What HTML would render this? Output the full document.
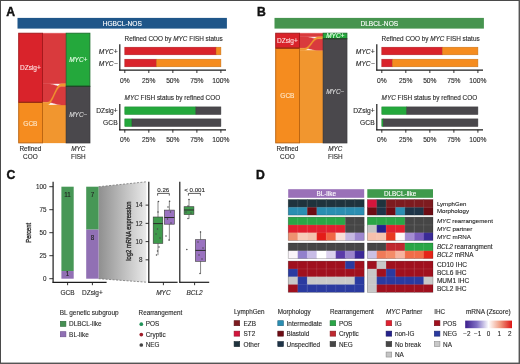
<!DOCTYPE html>
<html><head><meta charset="utf-8"><style>
html,body{margin:0;padding:0;background:#fff;}
svg{display:block;font-family:"Liberation Sans", sans-serif;will-change:transform;filter:blur(0.3px);}
</style></head><body>
<svg width="520" height="364" viewBox="0 0 520 364">
<rect x="0.00" y="0.00" width="520.00" height="364.00" fill="#ffffff" />
<rect x="17.50" y="17.90" width="209.40" height="10.70" fill="#1f5689" />
<text x="122.30" y="26.10" font-size="6.6" fill="#ffffff" stroke="#ffffff" stroke-width="0.12" text-anchor="middle" font-weight="normal" font-style="normal" >HGBCL-NOS</text>
<path d="M42.50,33.20 L47.24,33.20 C52.93,33.20 55.77,33.20 61.46,33.20 L66.20,33.20 L66.20,83.64 L61.46,83.64 C55.77,83.64 52.93,83.64 47.24,83.64 L42.50,83.64 Z" fill="#d93a3d" stroke="#d93a3d" stroke-width="0.35"/>
<path d="M42.50,104.98 L47.24,104.98 C52.93,104.98 55.77,104.98 61.46,104.98 L66.20,104.98 L66.20,142.90 L61.46,142.90 C55.77,142.90 52.93,142.90 47.24,142.90 L42.50,142.90 Z" fill="#f1962f" stroke="#f1962f" stroke-width="0.35"/>
<path d="M42.50,83.64 L47.24,83.64 C52.93,83.64 55.77,86.30 61.46,86.30 L66.20,86.30 L66.20,104.98 L61.46,104.98 C55.77,104.98 52.93,102.32 47.24,102.32 L42.50,102.32 Z" fill="#d93a3d" stroke="#d93a3d" stroke-width="0.35"/>
<path d="M42.50,102.32 L47.24,102.32 C52.93,102.32 55.77,83.64 61.46,83.64 L66.20,83.64 L66.20,86.30 L61.46,86.30 C55.77,86.30 52.93,104.98 47.24,104.98 L42.50,104.98 Z" fill="#f1962f" stroke="#f1962f" stroke-width="0.35"/>
<rect x="18.70" y="33.20" width="23.80" height="69.12" fill="#d9232b" stroke="#a01418" stroke-width="0.9"/>
<rect x="18.70" y="102.32" width="23.80" height="40.58" fill="#f58c1f" stroke="#b8600c" stroke-width="0.9"/>
<line x1="18.70" y1="102.32" x2="42.50" y2="102.32" stroke="#8a1c14" stroke-width="0.9" />
<rect x="66.20" y="33.20" width="23.70" height="53.10" fill="#24a83c" stroke="#1a6e2a" stroke-width="0.9"/>
<rect x="66.20" y="86.30" width="23.70" height="56.60" fill="#4a484c" stroke="#333235" stroke-width="0.9"/>
<line x1="66.20" y1="86.30" x2="89.90" y2="86.30" stroke="#1e4a24" stroke-width="0.9" />
<text x="30.40" y="70.40" font-size="6.5" fill="#ffe0e0" stroke="#ffe0e0" stroke-width="0.12" text-anchor="middle" font-weight="normal" font-style="normal" >DZsig+</text>
<text x="30.40" y="125.50" font-size="6.5" fill="#ffe8cc" stroke="#ffe8cc" stroke-width="0.12" text-anchor="middle" font-weight="normal" font-style="normal" >GCB</text>
<text x="78.30" y="62.30" font-size="6.5" fill="#e6ffe6" stroke="#e6ffe6" stroke-width="0.12" text-anchor="middle" font-weight="normal" font-style="italic" >MYC+</text>
<text x="78.30" y="116.50" font-size="6.5" fill="#dddddd" stroke="#dddddd" stroke-width="0.12" text-anchor="middle" font-weight="normal" font-style="italic" >MYC&#8722;</text>
<text x="30.40" y="151.20" font-size="6.4" fill="#2a2a2a" stroke="#2a2a2a" stroke-width="0.12" text-anchor="middle" font-weight="normal" font-style="normal" >Refined</text>
<text x="30.40" y="159.30" font-size="6.4" fill="#2a2a2a" stroke="#2a2a2a" stroke-width="0.12" text-anchor="middle" font-weight="normal" font-style="normal" >COO</text>
<text x="78.30" y="151.20" font-size="6.4" fill="#2a2a2a" stroke="#2a2a2a" stroke-width="0.12" text-anchor="middle" font-weight="normal" font-style="italic" >MYC</text>
<text x="78.30" y="159.30" font-size="6.4" fill="#2a2a2a" stroke="#2a2a2a" stroke-width="0.12" text-anchor="middle" font-weight="normal" font-style="normal" >FISH</text>
<text x="124.60" y="40.60" font-size="6.4" fill="#2a2a2a" stroke="#2a2a2a" stroke-width="0.12" text-anchor="start" font-weight="normal" font-style="normal" >Refined COO by <tspan font-style="italic">MYC</tspan> FISH status</text>
<rect x="124.80" y="47.20" width="91.29" height="7.60" fill="#d9232b" stroke="#ad1c22" stroke-width="0.5"/>
<rect x="216.09" y="47.20" width="4.81" height="7.60" fill="#f58c1f" stroke="#c47018" stroke-width="0.5"/>
<text x="117.60" y="53.70" font-size="6.7" fill="#2a2a2a" stroke="#2a2a2a" stroke-width="0.12" text-anchor="end" font-weight="normal" font-style="italic" >MYC+</text>
<rect x="124.80" y="59.20" width="31.71" height="7.60" fill="#d9232b" stroke="#ad1c22" stroke-width="0.5"/>
<rect x="156.51" y="59.20" width="64.39" height="7.60" fill="#f58c1f" stroke="#c47018" stroke-width="0.5"/>
<text x="117.60" y="65.70" font-size="6.7" fill="#2a2a2a" stroke="#2a2a2a" stroke-width="0.12" text-anchor="end" font-weight="normal" font-style="italic" >MYC&#8722;</text>
<line x1="119.80" y1="44.30" x2="119.80" y2="70.60" stroke="#1c1c1c" stroke-width="1.2" />
<line x1="119.20" y1="70.10" x2="226.00" y2="70.10" stroke="#1c1c1c" stroke-width="1.2" />
<line x1="124.80" y1="70.10" x2="124.80" y2="73.00" stroke="#1c1c1c" stroke-width="0.9" />
<text x="124.80" y="82.60" font-size="6.7" fill="#2a2a2a" stroke="#2a2a2a" stroke-width="0.12" text-anchor="middle" font-weight="normal" font-style="normal" >0%</text>
<line x1="148.82" y1="70.10" x2="148.82" y2="73.00" stroke="#1c1c1c" stroke-width="0.9" />
<text x="148.82" y="82.60" font-size="6.7" fill="#2a2a2a" stroke="#2a2a2a" stroke-width="0.12" text-anchor="middle" font-weight="normal" font-style="normal" >25%</text>
<line x1="172.85" y1="70.10" x2="172.85" y2="73.00" stroke="#1c1c1c" stroke-width="0.9" />
<text x="172.85" y="82.60" font-size="6.7" fill="#2a2a2a" stroke="#2a2a2a" stroke-width="0.12" text-anchor="middle" font-weight="normal" font-style="normal" >50%</text>
<line x1="196.88" y1="70.10" x2="196.88" y2="73.00" stroke="#1c1c1c" stroke-width="0.9" />
<text x="196.88" y="82.60" font-size="6.7" fill="#2a2a2a" stroke="#2a2a2a" stroke-width="0.12" text-anchor="middle" font-weight="normal" font-style="normal" >75%</text>
<line x1="220.90" y1="70.10" x2="220.90" y2="73.00" stroke="#1c1c1c" stroke-width="0.9" />
<text x="220.90" y="82.60" font-size="6.7" fill="#2a2a2a" stroke="#2a2a2a" stroke-width="0.12" text-anchor="middle" font-weight="normal" font-style="normal" >100%</text>
<text x="124.60" y="100.30" font-size="6.4" fill="#2a2a2a" stroke="#2a2a2a" stroke-width="0.12" text-anchor="start" font-weight="normal" font-style="normal" ><tspan font-style="italic">MYC</tspan> FISH status by refined COO</text>
<rect x="124.80" y="106.90" width="71.11" height="7.60" fill="#24a83c" stroke="#1c8630" stroke-width="0.5"/>
<rect x="195.91" y="106.90" width="24.99" height="7.60" fill="#4a484c" stroke="#3b393c" stroke-width="0.5"/>
<text x="117.60" y="113.40" font-size="6.7" fill="#2a2a2a" stroke="#2a2a2a" stroke-width="0.12" text-anchor="end" font-weight="normal" font-style="normal" >DZsig+</text>
<rect x="124.80" y="118.90" width="7.21" height="7.60" fill="#24a83c" stroke="#1c8630" stroke-width="0.5"/>
<rect x="132.01" y="118.90" width="88.89" height="7.60" fill="#4a484c" stroke="#3b393c" stroke-width="0.5"/>
<text x="117.60" y="125.40" font-size="6.7" fill="#2a2a2a" stroke="#2a2a2a" stroke-width="0.12" text-anchor="end" font-weight="normal" font-style="normal" >GCB</text>
<line x1="119.80" y1="104.00" x2="119.80" y2="130.30" stroke="#1c1c1c" stroke-width="1.2" />
<line x1="119.20" y1="129.80" x2="226.00" y2="129.80" stroke="#1c1c1c" stroke-width="1.2" />
<line x1="124.80" y1="129.80" x2="124.80" y2="132.70" stroke="#1c1c1c" stroke-width="0.9" />
<text x="124.80" y="142.30" font-size="6.7" fill="#2a2a2a" stroke="#2a2a2a" stroke-width="0.12" text-anchor="middle" font-weight="normal" font-style="normal" >0%</text>
<line x1="148.82" y1="129.80" x2="148.82" y2="132.70" stroke="#1c1c1c" stroke-width="0.9" />
<text x="148.82" y="142.30" font-size="6.7" fill="#2a2a2a" stroke="#2a2a2a" stroke-width="0.12" text-anchor="middle" font-weight="normal" font-style="normal" >25%</text>
<line x1="172.85" y1="129.80" x2="172.85" y2="132.70" stroke="#1c1c1c" stroke-width="0.9" />
<text x="172.85" y="142.30" font-size="6.7" fill="#2a2a2a" stroke="#2a2a2a" stroke-width="0.12" text-anchor="middle" font-weight="normal" font-style="normal" >50%</text>
<line x1="196.88" y1="129.80" x2="196.88" y2="132.70" stroke="#1c1c1c" stroke-width="0.9" />
<text x="196.88" y="142.30" font-size="6.7" fill="#2a2a2a" stroke="#2a2a2a" stroke-width="0.12" text-anchor="middle" font-weight="normal" font-style="normal" >75%</text>
<line x1="220.90" y1="129.80" x2="220.90" y2="132.70" stroke="#1c1c1c" stroke-width="0.9" />
<text x="220.90" y="142.30" font-size="6.7" fill="#2a2a2a" stroke="#2a2a2a" stroke-width="0.12" text-anchor="middle" font-weight="normal" font-style="normal" >100%</text>
<rect x="274.50" y="17.90" width="209.40" height="10.70" fill="#46944f" />
<text x="379.30" y="26.10" font-size="6.6" fill="#ffffff" stroke="#ffffff" stroke-width="0.12" text-anchor="middle" font-weight="normal" font-style="normal" >DLBCL-NOS</text>
<path d="M299.50,33.20 L304.24,33.20 C309.93,33.20 312.77,33.20 318.46,33.20 L323.20,33.20 L323.20,36.73 L318.46,36.73 C312.77,36.73 309.93,36.73 304.24,36.73 L299.50,36.73 Z" fill="#d93a3d" stroke="#d93a3d" stroke-width="0.35"/>
<path d="M299.50,50.25 L304.24,50.25 C309.93,50.25 312.77,50.25 318.46,50.25 L323.20,50.25 L323.20,142.90 L318.46,142.90 C312.77,142.90 309.93,142.90 304.24,142.90 L299.50,142.90 Z" fill="#f1962f" stroke="#f1962f" stroke-width="0.35"/>
<path d="M299.50,36.73 L304.24,36.73 C309.93,36.73 312.77,38.80 318.46,38.80 L323.20,38.80 L323.20,50.25 L318.46,50.25 C312.77,50.25 309.93,48.18 304.24,48.18 L299.50,48.18 Z" fill="#d93a3d" stroke="#d93a3d" stroke-width="0.35"/>
<path d="M299.50,48.18 L304.24,48.18 C309.93,48.18 312.77,36.73 318.46,36.73 L323.20,36.73 L323.20,38.80 L318.46,38.80 C312.77,38.80 309.93,50.25 304.24,50.25 L299.50,50.25 Z" fill="#f1962f" stroke="#f1962f" stroke-width="0.35"/>
<rect x="275.70" y="33.20" width="23.80" height="14.98" fill="#d9232b" stroke="#a01418" stroke-width="0.9"/>
<rect x="275.70" y="48.18" width="23.80" height="94.72" fill="#f58c1f" stroke="#b8600c" stroke-width="0.9"/>
<line x1="275.70" y1="48.18" x2="299.50" y2="48.18" stroke="#8a1c14" stroke-width="0.9" />
<rect x="323.20" y="33.20" width="23.70" height="5.60" fill="#24a83c" stroke="#1a6e2a" stroke-width="0.9"/>
<rect x="323.20" y="38.80" width="23.70" height="104.10" fill="#4a484c" stroke="#333235" stroke-width="0.9"/>
<line x1="323.20" y1="38.80" x2="346.90" y2="38.80" stroke="#1e4a24" stroke-width="0.9" />
<text x="287.40" y="42.90" font-size="6.5" fill="#ffe0e0" stroke="#ffe0e0" stroke-width="0.12" text-anchor="middle" font-weight="normal" font-style="normal" >DZsig+</text>
<text x="287.40" y="97.50" font-size="6.5" fill="#ffe8cc" stroke="#ffe8cc" stroke-width="0.12" text-anchor="middle" font-weight="normal" font-style="normal" >GCB</text>
<text x="335.30" y="38.30" font-size="6.5" fill="#e6ffe6" stroke="#e6ffe6" stroke-width="0.12" text-anchor="middle" font-weight="normal" font-style="italic" >MYC+</text>
<text x="335.30" y="93.50" font-size="6.5" fill="#dddddd" stroke="#dddddd" stroke-width="0.12" text-anchor="middle" font-weight="normal" font-style="italic" >MYC&#8722;</text>
<text x="287.40" y="151.20" font-size="6.4" fill="#2a2a2a" stroke="#2a2a2a" stroke-width="0.12" text-anchor="middle" font-weight="normal" font-style="normal" >Refined</text>
<text x="287.40" y="159.30" font-size="6.4" fill="#2a2a2a" stroke="#2a2a2a" stroke-width="0.12" text-anchor="middle" font-weight="normal" font-style="normal" >COO</text>
<text x="335.30" y="151.20" font-size="6.4" fill="#2a2a2a" stroke="#2a2a2a" stroke-width="0.12" text-anchor="middle" font-weight="normal" font-style="italic" >MYC</text>
<text x="335.30" y="159.30" font-size="6.4" fill="#2a2a2a" stroke="#2a2a2a" stroke-width="0.12" text-anchor="middle" font-weight="normal" font-style="normal" >FISH</text>
<text x="381.60" y="40.60" font-size="6.4" fill="#2a2a2a" stroke="#2a2a2a" stroke-width="0.12" text-anchor="start" font-weight="normal" font-style="normal" >Refined COO by <tspan font-style="italic">MYC</tspan> FISH status</text>
<rect x="381.80" y="47.20" width="60.54" height="7.60" fill="#d9232b" stroke="#ad1c22" stroke-width="0.5"/>
<rect x="442.34" y="47.20" width="35.56" height="7.60" fill="#f58c1f" stroke="#c47018" stroke-width="0.5"/>
<text x="374.60" y="53.70" font-size="6.7" fill="#2a2a2a" stroke="#2a2a2a" stroke-width="0.12" text-anchor="end" font-weight="normal" font-style="italic" >MYC+</text>
<rect x="381.80" y="59.20" width="10.57" height="7.60" fill="#d9232b" stroke="#ad1c22" stroke-width="0.5"/>
<rect x="392.37" y="59.20" width="85.53" height="7.60" fill="#f58c1f" stroke="#c47018" stroke-width="0.5"/>
<text x="374.60" y="65.70" font-size="6.7" fill="#2a2a2a" stroke="#2a2a2a" stroke-width="0.12" text-anchor="end" font-weight="normal" font-style="italic" >MYC&#8722;</text>
<line x1="376.80" y1="44.30" x2="376.80" y2="70.60" stroke="#1c1c1c" stroke-width="1.2" />
<line x1="376.20" y1="70.10" x2="483.00" y2="70.10" stroke="#1c1c1c" stroke-width="1.2" />
<line x1="381.80" y1="70.10" x2="381.80" y2="73.00" stroke="#1c1c1c" stroke-width="0.9" />
<text x="381.80" y="82.60" font-size="6.7" fill="#2a2a2a" stroke="#2a2a2a" stroke-width="0.12" text-anchor="middle" font-weight="normal" font-style="normal" >0%</text>
<line x1="405.82" y1="70.10" x2="405.82" y2="73.00" stroke="#1c1c1c" stroke-width="0.9" />
<text x="405.82" y="82.60" font-size="6.7" fill="#2a2a2a" stroke="#2a2a2a" stroke-width="0.12" text-anchor="middle" font-weight="normal" font-style="normal" >25%</text>
<line x1="429.85" y1="70.10" x2="429.85" y2="73.00" stroke="#1c1c1c" stroke-width="0.9" />
<text x="429.85" y="82.60" font-size="6.7" fill="#2a2a2a" stroke="#2a2a2a" stroke-width="0.12" text-anchor="middle" font-weight="normal" font-style="normal" >50%</text>
<line x1="453.88" y1="70.10" x2="453.88" y2="73.00" stroke="#1c1c1c" stroke-width="0.9" />
<text x="453.88" y="82.60" font-size="6.7" fill="#2a2a2a" stroke="#2a2a2a" stroke-width="0.12" text-anchor="middle" font-weight="normal" font-style="normal" >75%</text>
<line x1="477.90" y1="70.10" x2="477.90" y2="73.00" stroke="#1c1c1c" stroke-width="0.9" />
<text x="477.90" y="82.60" font-size="6.7" fill="#2a2a2a" stroke="#2a2a2a" stroke-width="0.12" text-anchor="middle" font-weight="normal" font-style="normal" >100%</text>
<text x="381.60" y="100.30" font-size="6.4" fill="#2a2a2a" stroke="#2a2a2a" stroke-width="0.12" text-anchor="start" font-weight="normal" font-style="normal" ><tspan font-style="italic">MYC</tspan> FISH status by refined COO</text>
<rect x="381.80" y="106.90" width="24.99" height="7.60" fill="#24a83c" stroke="#1c8630" stroke-width="0.5"/>
<rect x="406.79" y="106.90" width="71.11" height="7.60" fill="#4a484c" stroke="#3b393c" stroke-width="0.5"/>
<text x="374.60" y="113.40" font-size="6.7" fill="#2a2a2a" stroke="#2a2a2a" stroke-width="0.12" text-anchor="end" font-weight="normal" font-style="normal" >DZsig+</text>
<rect x="381.80" y="118.90" width="1.44" height="7.60" fill="#24a83c" stroke="#1c8630" stroke-width="0.5"/>
<rect x="383.24" y="118.90" width="94.66" height="7.60" fill="#4a484c" stroke="#3b393c" stroke-width="0.5"/>
<text x="374.60" y="125.40" font-size="6.7" fill="#2a2a2a" stroke="#2a2a2a" stroke-width="0.12" text-anchor="end" font-weight="normal" font-style="normal" >GCB</text>
<line x1="376.80" y1="104.00" x2="376.80" y2="130.30" stroke="#1c1c1c" stroke-width="1.2" />
<line x1="376.20" y1="129.80" x2="483.00" y2="129.80" stroke="#1c1c1c" stroke-width="1.2" />
<line x1="381.80" y1="129.80" x2="381.80" y2="132.70" stroke="#1c1c1c" stroke-width="0.9" />
<text x="381.80" y="142.30" font-size="6.7" fill="#2a2a2a" stroke="#2a2a2a" stroke-width="0.12" text-anchor="middle" font-weight="normal" font-style="normal" >0%</text>
<line x1="405.82" y1="129.80" x2="405.82" y2="132.70" stroke="#1c1c1c" stroke-width="0.9" />
<text x="405.82" y="142.30" font-size="6.7" fill="#2a2a2a" stroke="#2a2a2a" stroke-width="0.12" text-anchor="middle" font-weight="normal" font-style="normal" >25%</text>
<line x1="429.85" y1="129.80" x2="429.85" y2="132.70" stroke="#1c1c1c" stroke-width="0.9" />
<text x="429.85" y="142.30" font-size="6.7" fill="#2a2a2a" stroke="#2a2a2a" stroke-width="0.12" text-anchor="middle" font-weight="normal" font-style="normal" >50%</text>
<line x1="453.88" y1="129.80" x2="453.88" y2="132.70" stroke="#1c1c1c" stroke-width="0.9" />
<text x="453.88" y="142.30" font-size="6.7" fill="#2a2a2a" stroke="#2a2a2a" stroke-width="0.12" text-anchor="middle" font-weight="normal" font-style="normal" >75%</text>
<line x1="477.90" y1="129.80" x2="477.90" y2="132.70" stroke="#1c1c1c" stroke-width="0.9" />
<text x="477.90" y="142.30" font-size="6.7" fill="#2a2a2a" stroke="#2a2a2a" stroke-width="0.12" text-anchor="middle" font-weight="normal" font-style="normal" >100%</text>
<text x="6.30" y="15.60" font-size="12.2" fill="#111" stroke="#111" stroke-width="0.4" text-anchor="start" font-weight="bold" font-style="normal" >A</text>
<text x="257.00" y="15.70" font-size="12.2" fill="#111" stroke="#111" stroke-width="0.4" text-anchor="start" font-weight="bold" font-style="normal" >B</text>
<text x="6.50" y="178.60" font-size="12.2" fill="#111" stroke="#111" stroke-width="0.4" text-anchor="start" font-weight="bold" font-style="normal" >C</text>
<text x="256.10" y="178.50" font-size="12.2" fill="#111" stroke="#111" stroke-width="0.4" text-anchor="start" font-weight="bold" font-style="normal" >D</text>
<defs><linearGradient id="gz" x1="0" y1="0" x2="1" y2="0"><stop offset="0" stop-color="#8f8f8f"/><stop offset="1" stop-color="#e9e9e9"/></linearGradient><linearGradient id="cb" x1="0" y1="0" x2="1" y2="0"><stop offset="0" stop-color="#3c1e8c"/><stop offset="0.25" stop-color="#8070c4"/><stop offset="0.5" stop-color="#ffffff"/><stop offset="0.75" stop-color="#f09a80"/><stop offset="1" stop-color="#dc1414"/></linearGradient></defs>
<polygon points="98.6,186.7 146.4,181.8 146.4,282.2 98.6,278.7" fill="url(#gz)"/>
<line x1="98.6" y1="186.7" x2="146.4" y2="181.8" stroke="#777" stroke-width="0.8" stroke-dasharray="2,1.5"/>
<line x1="98.6" y1="278.7" x2="146.4" y2="282.2" stroke="#777" stroke-width="0.8" stroke-dasharray="2,1.5"/>
<rect x="61.40" y="186.70" width="12.30" height="84.33" fill="#479756" />
<rect x="61.40" y="271.03" width="12.30" height="7.67" fill="#9170b4" />
<rect x="86.20" y="186.70" width="12.40" height="42.93" fill="#479756" />
<rect x="86.20" y="229.63" width="12.40" height="49.07" fill="#9170b4" />
<text x="67.60" y="197.20" font-size="6.3" fill="#222" stroke="#222" stroke-width="0.12" text-anchor="middle" font-weight="normal" font-style="normal" >11</text>
<text x="92.40" y="197.20" font-size="6.3" fill="#222" stroke="#222" stroke-width="0.12" text-anchor="middle" font-weight="normal" font-style="normal" >7</text>
<text x="67.60" y="276.20" font-size="6.3" fill="#222" stroke="#222" stroke-width="0.12" text-anchor="middle" font-weight="normal" font-style="normal" >1</text>
<text x="92.40" y="239.80" font-size="6.3" fill="#222" stroke="#222" stroke-width="0.12" text-anchor="middle" font-weight="normal" font-style="normal" >8</text>
<line x1="53.10" y1="181.80" x2="53.10" y2="282.80" stroke="#1c1c1c" stroke-width="1.2" />
<line x1="52.50" y1="282.30" x2="106.60" y2="282.30" stroke="#1c1c1c" stroke-width="1.2" />
<line x1="49.30" y1="186.70" x2="53.10" y2="186.70" stroke="#1c1c1c" stroke-width="0.9" />
<text x="46.60" y="188.90" font-size="6.3" fill="#2a2a2a" stroke="#2a2a2a" stroke-width="0.12" text-anchor="end" font-weight="normal" font-style="normal" >100</text>
<line x1="49.30" y1="209.70" x2="53.10" y2="209.70" stroke="#1c1c1c" stroke-width="0.9" />
<text x="46.60" y="211.90" font-size="6.3" fill="#2a2a2a" stroke="#2a2a2a" stroke-width="0.12" text-anchor="end" font-weight="normal" font-style="normal" >75</text>
<line x1="49.30" y1="232.70" x2="53.10" y2="232.70" stroke="#1c1c1c" stroke-width="0.9" />
<text x="46.60" y="234.90" font-size="6.3" fill="#2a2a2a" stroke="#2a2a2a" stroke-width="0.12" text-anchor="end" font-weight="normal" font-style="normal" >50</text>
<line x1="49.30" y1="255.70" x2="53.10" y2="255.70" stroke="#1c1c1c" stroke-width="0.9" />
<text x="46.60" y="257.90" font-size="6.3" fill="#2a2a2a" stroke="#2a2a2a" stroke-width="0.12" text-anchor="end" font-weight="normal" font-style="normal" >25</text>
<line x1="49.30" y1="278.70" x2="53.10" y2="278.70" stroke="#1c1c1c" stroke-width="0.9" />
<text x="46.60" y="280.90" font-size="6.3" fill="#2a2a2a" stroke="#2a2a2a" stroke-width="0.12" text-anchor="end" font-weight="normal" font-style="normal" >0</text>
<line x1="67.60" y1="282.30" x2="67.60" y2="285.20" stroke="#1c1c1c" stroke-width="0.9" />
<text x="67.60" y="295.00" font-size="6.5" fill="#2a2a2a" stroke="#2a2a2a" stroke-width="0.12" text-anchor="middle" font-weight="normal" font-style="normal" >GCB</text>
<line x1="92.40" y1="282.30" x2="92.40" y2="285.20" stroke="#1c1c1c" stroke-width="0.9" />
<text x="92.40" y="295.00" font-size="6.5" fill="#2a2a2a" stroke="#2a2a2a" stroke-width="0.12" text-anchor="middle" font-weight="normal" font-style="normal" >DZsig+</text>
<text x="0" y="0" font-size="8.0" fill="#2a2a2a" stroke="#2a2a2a" stroke-width="0.35" text-anchor="middle" transform="translate(31.0,232.8) rotate(-90) scale(0.718,1)">Percent</text>
<line x1="148.80" y1="181.70" x2="148.80" y2="282.70" stroke="#1c1c1c" stroke-width="1.2" />
<line x1="148.30" y1="282.30" x2="177.60" y2="282.30" stroke="#1c1c1c" stroke-width="1.2" />
<line x1="179.80" y1="181.70" x2="179.80" y2="282.70" stroke="#1c1c1c" stroke-width="1.2" />
<line x1="179.30" y1="282.30" x2="209.20" y2="282.30" stroke="#1c1c1c" stroke-width="1.2" />
<line x1="145.60" y1="205.12" x2="148.80" y2="205.12" stroke="#1c1c1c" stroke-width="0.9" />
<text x="142.40" y="207.32" font-size="6.3" fill="#2a2a2a" stroke="#2a2a2a" stroke-width="0.12" text-anchor="end" font-weight="normal" font-style="normal" >14</text>
<line x1="145.60" y1="223.36" x2="148.80" y2="223.36" stroke="#1c1c1c" stroke-width="0.9" />
<text x="142.40" y="225.56" font-size="6.3" fill="#2a2a2a" stroke="#2a2a2a" stroke-width="0.12" text-anchor="end" font-weight="normal" font-style="normal" >12</text>
<line x1="145.60" y1="241.60" x2="148.80" y2="241.60" stroke="#1c1c1c" stroke-width="0.9" />
<text x="142.40" y="243.80" font-size="6.3" fill="#2a2a2a" stroke="#2a2a2a" stroke-width="0.12" text-anchor="end" font-weight="normal" font-style="normal" >10</text>
<line x1="145.60" y1="259.84" x2="148.80" y2="259.84" stroke="#1c1c1c" stroke-width="0.9" />
<text x="142.40" y="262.04" font-size="6.3" fill="#2a2a2a" stroke="#2a2a2a" stroke-width="0.12" text-anchor="end" font-weight="normal" font-style="normal" >8</text>
<text x="0" y="0" font-size="8.0" fill="#2a2a2a" stroke="#2a2a2a" stroke-width="0.35" text-anchor="middle" transform="translate(131.1,231.1) rotate(-90) scale(0.729,1)">log2 mRNA expression</text>
<line x1="163.40" y1="282.30" x2="163.40" y2="285.20" stroke="#1c1c1c" stroke-width="0.9" />
<text x="163.40" y="295.00" font-size="6.5" fill="#2a2a2a" stroke="#2a2a2a" stroke-width="0.12" text-anchor="middle" font-weight="normal" font-style="italic" >MYC</text>
<line x1="194.60" y1="282.30" x2="194.60" y2="285.20" stroke="#1c1c1c" stroke-width="0.9" />
<text x="194.60" y="295.00" font-size="6.5" fill="#2a2a2a" stroke="#2a2a2a" stroke-width="0.12" text-anchor="middle" font-weight="normal" font-style="italic" >BCL2</text>
<text x="163.30" y="191.80" font-size="6.2" fill="#2a2a2a" stroke="#2a2a2a" stroke-width="0.12" text-anchor="middle" font-weight="normal" font-style="normal" >0.26</text>
<path d="M157.6,195.6 L157.6,193.4 L169.3,193.4 L169.3,195.6" fill="none" stroke="#333" stroke-width="0.8"/>
<text x="194.60" y="191.90" font-size="6.2" fill="#2a2a2a" stroke="#2a2a2a" stroke-width="0.12" text-anchor="middle" font-weight="normal" font-style="normal" >&lt; 0.001</text>
<path d="M188.4,195.6 L188.4,193.4 L200.4,193.4 L200.4,195.6" fill="none" stroke="#333" stroke-width="0.8"/>
<line x1="158.00" y1="201.40" x2="158.00" y2="217.00" stroke="#555" stroke-width="0.7" />
<line x1="158.00" y1="243.40" x2="158.00" y2="255.10" stroke="#555" stroke-width="0.7" />
<rect x="153.20" y="217.00" width="9.60" height="26.40" fill="#3f9a4c" stroke="#3a3a3a" stroke-width="0.6"/>
<line x1="153.20" y1="223.60" x2="162.80" y2="223.60" stroke="#2a2a2a" stroke-width="1.0" />
<line x1="169.35" y1="200.90" x2="169.35" y2="210.10" stroke="#555" stroke-width="0.7" />
<line x1="169.35" y1="224.20" x2="169.35" y2="240.70" stroke="#555" stroke-width="0.7" />
<rect x="164.40" y="210.10" width="9.90" height="14.10" fill="#9a72c0" stroke="#3a3a3a" stroke-width="0.6"/>
<line x1="164.40" y1="217.50" x2="174.30" y2="217.50" stroke="#2a2a2a" stroke-width="1.0" />
<line x1="189.00" y1="199.20" x2="189.00" y2="206.70" stroke="#555" stroke-width="0.7" />
<line x1="189.00" y1="214.60" x2="189.00" y2="218.80" stroke="#555" stroke-width="0.7" />
<rect x="184.10" y="206.70" width="9.80" height="7.90" fill="#3f9a4c" stroke="#3a3a3a" stroke-width="0.6"/>
<line x1="184.10" y1="210.00" x2="193.90" y2="210.00" stroke="#2a2a2a" stroke-width="1.0" />
<line x1="200.55" y1="231.50" x2="200.55" y2="239.70" stroke="#555" stroke-width="0.7" />
<line x1="200.55" y1="261.30" x2="200.55" y2="273.70" stroke="#555" stroke-width="0.7" />
<rect x="195.40" y="239.70" width="10.30" height="21.60" fill="#9a72c0" stroke="#3a3a3a" stroke-width="0.6"/>
<line x1="195.40" y1="250.40" x2="205.70" y2="250.40" stroke="#2a2a2a" stroke-width="1.0" />
<circle cx="158.5" cy="201.5" r="0.75" fill="#4a4a4a"/>
<circle cx="157.5" cy="229" r="0.75" fill="#4a4a4a"/>
<circle cx="156" cy="234" r="0.75" fill="#4a4a4a"/>
<circle cx="159" cy="247" r="0.75" fill="#4a4a4a"/>
<circle cx="157.5" cy="251" r="0.75" fill="#4a4a4a"/>
<circle cx="156.5" cy="255" r="0.75" fill="#4a4a4a"/>
<circle cx="160" cy="238" r="0.75" fill="#4a4a4a"/>
<circle cx="158" cy="212" r="0.75" fill="#4a4a4a"/>
<circle cx="169.6" cy="201.2" r="0.75" fill="#4a4a4a"/>
<circle cx="168" cy="207" r="0.75" fill="#4a4a4a"/>
<circle cx="170.5" cy="212" r="0.75" fill="#4a4a4a"/>
<circle cx="167.5" cy="219" r="0.75" fill="#4a4a4a"/>
<circle cx="171" cy="223" r="0.75" fill="#4a4a4a"/>
<circle cx="169" cy="240" r="0.75" fill="#4a4a4a"/>
<circle cx="166" cy="236" r="0.75" fill="#4a4a4a"/>
<circle cx="189" cy="199.5" r="0.75" fill="#4a4a4a"/>
<circle cx="188" cy="206" r="0.75" fill="#4a4a4a"/>
<circle cx="186" cy="212" r="0.75" fill="#4a4a4a"/>
<circle cx="191" cy="213" r="0.75" fill="#4a4a4a"/>
<circle cx="188" cy="218.5" r="0.75" fill="#4a4a4a"/>
<circle cx="200.5" cy="232" r="0.75" fill="#4a4a4a"/>
<circle cx="198" cy="242" r="0.75" fill="#4a4a4a"/>
<circle cx="203" cy="248" r="0.75" fill="#4a4a4a"/>
<circle cx="199" cy="255" r="0.75" fill="#4a4a4a"/>
<circle cx="202" cy="259" r="0.75" fill="#4a4a4a"/>
<circle cx="200" cy="273.5" r="0.75" fill="#4a4a4a"/>
<circle cx="186.8" cy="249.6" r="0.75" fill="#4a4a4a"/>
<text x="59.80" y="314.60" font-size="6.45" fill="#2a2a2a" stroke="#2a2a2a" stroke-width="0.12" text-anchor="start" font-weight="normal" font-style="normal" >BL genetic subgroup</text>
<rect x="60.30" y="321.30" width="5.60" height="5.10" fill="#458f52" stroke="#2f6a3a" stroke-width="0.6"/>
<text x="69.10" y="326.20" font-size="6.45" fill="#2a2a2a" stroke="#2a2a2a" stroke-width="0.12" text-anchor="start" font-weight="normal" font-style="normal" >DLBCL-like</text>
<rect x="60.30" y="331.70" width="5.60" height="5.10" fill="#9070b4" stroke="#6a4c8c" stroke-width="0.6"/>
<text x="69.10" y="336.60" font-size="6.45" fill="#2a2a2a" stroke="#2a2a2a" stroke-width="0.12" text-anchor="start" font-weight="normal" font-style="normal" >BL-like</text>
<text x="138.60" y="314.60" font-size="6.3" fill="#2a2a2a" stroke="#2a2a2a" stroke-width="0.12" text-anchor="start" font-weight="normal" font-style="normal" >Rearrangement</text>
<circle cx="141.3" cy="324.2" r="1.85" fill="#22935a"/>
<text x="145.70" y="326.30" font-size="6.4" fill="#2a2a2a" stroke="#2a2a2a" stroke-width="0.12" text-anchor="start" font-weight="normal" font-style="normal" >POS</text>
<circle cx="141.3" cy="334.6" r="1.85" fill="#a01c28"/>
<text x="145.70" y="336.70" font-size="6.4" fill="#2a2a2a" stroke="#2a2a2a" stroke-width="0.12" text-anchor="start" font-weight="normal" font-style="normal" >Cryptic</text>
<circle cx="141.3" cy="345.0" r="1.85" fill="#444"/>
<text x="145.70" y="347.10" font-size="6.4" fill="#2a2a2a" stroke="#2a2a2a" stroke-width="0.12" text-anchor="start" font-weight="normal" font-style="normal" >NEG</text>
<rect x="288.20" y="189.20" width="76.00" height="8.60" fill="#9a70b8" />
<text x="326.20" y="196.10" font-size="6.4" fill="#ffffff" stroke="#ffffff" stroke-width="0.12" text-anchor="middle" font-weight="normal" font-style="normal" >BL-like</text>
<rect x="367.30" y="189.20" width="65.70" height="8.60" fill="#3f9a4c" />
<text x="400.10" y="196.10" font-size="6.4" fill="#ffffff" stroke="#ffffff" stroke-width="0.12" text-anchor="middle" font-weight="normal" font-style="normal" >DLBCL-like</text>
<rect x="288.20" y="199.50" width="10.00" height="8.30" fill="#1f333d"/>
<rect x="297.70" y="199.50" width="10.00" height="8.30" fill="#1f333d"/>
<rect x="307.20" y="199.50" width="10.00" height="8.30" fill="#1f333d"/>
<rect x="316.70" y="199.50" width="10.00" height="8.30" fill="#1f333d"/>
<rect x="326.20" y="199.50" width="10.00" height="8.30" fill="#1f333d"/>
<rect x="335.70" y="199.50" width="10.00" height="8.30" fill="#1f333d"/>
<rect x="345.20" y="199.50" width="10.00" height="8.30" fill="#1f333d"/>
<rect x="354.70" y="199.50" width="9.50" height="8.30" fill="#1f333d"/>
<rect x="288.20" y="207.30" width="10.00" height="7.80" fill="#2b8eb2"/>
<rect x="297.70" y="207.30" width="10.00" height="7.80" fill="#2b8eb2"/>
<rect x="307.20" y="207.30" width="10.00" height="7.80" fill="#6e0c14"/>
<rect x="316.70" y="207.30" width="10.00" height="7.80" fill="#2b8eb2"/>
<rect x="326.20" y="207.30" width="10.00" height="7.80" fill="#2b8eb2"/>
<rect x="335.70" y="207.30" width="10.00" height="7.80" fill="#2b8eb2"/>
<rect x="345.20" y="207.30" width="10.00" height="7.80" fill="#2b8eb2"/>
<rect x="354.70" y="207.30" width="9.50" height="7.80" fill="#2b8eb2"/>
<rect x="288.20" y="217.10" width="10.00" height="8.30" fill="#2aa646"/>
<rect x="297.70" y="217.10" width="10.00" height="8.30" fill="#2aa646"/>
<rect x="307.20" y="217.10" width="10.00" height="8.30" fill="#2aa646"/>
<rect x="316.70" y="217.10" width="10.00" height="8.30" fill="#2aa646"/>
<rect x="326.20" y="217.10" width="10.00" height="8.30" fill="#2aa646"/>
<rect x="335.70" y="217.10" width="10.00" height="8.30" fill="#2aa646"/>
<rect x="345.20" y="217.10" width="10.00" height="8.30" fill="#464646"/>
<rect x="354.70" y="217.10" width="9.50" height="8.30" fill="#464646"/>
<rect x="288.20" y="224.90" width="10.00" height="8.30" fill="#e0202f"/>
<rect x="297.70" y="224.90" width="10.00" height="8.30" fill="#e0202f"/>
<rect x="307.20" y="224.90" width="10.00" height="8.30" fill="#e0202f"/>
<rect x="316.70" y="224.90" width="10.00" height="8.30" fill="#e0202f"/>
<rect x="326.20" y="224.90" width="10.00" height="8.30" fill="#e0202f"/>
<rect x="335.70" y="224.90" width="10.00" height="8.30" fill="#e0202f"/>
<rect x="345.20" y="224.90" width="10.00" height="8.30" fill="#464646"/>
<rect x="354.70" y="224.90" width="9.50" height="8.30" fill="#464646"/>
<rect x="288.20" y="232.70" width="10.00" height="7.80" fill="#ee9070"/>
<rect x="297.70" y="232.70" width="10.00" height="7.80" fill="#f8cbb8"/>
<rect x="307.20" y="232.70" width="10.00" height="7.80" fill="#f5c2ae"/>
<rect x="316.70" y="232.70" width="10.00" height="7.80" fill="#e41c18"/>
<rect x="326.20" y="232.70" width="10.00" height="7.80" fill="#f06644"/>
<rect x="335.70" y="232.70" width="10.00" height="7.80" fill="#faded8"/>
<rect x="345.20" y="232.70" width="10.00" height="7.80" fill="#c6b8e2"/>
<rect x="354.70" y="232.70" width="9.50" height="7.80" fill="#9e88d0"/>
<rect x="288.20" y="243.00" width="10.00" height="8.30" fill="#464646"/>
<rect x="297.70" y="243.00" width="10.00" height="8.30" fill="#464646"/>
<rect x="307.20" y="243.00" width="10.00" height="8.30" fill="#464646"/>
<rect x="316.70" y="243.00" width="10.00" height="8.30" fill="#464646"/>
<rect x="326.20" y="243.00" width="10.00" height="8.30" fill="#464646"/>
<rect x="335.70" y="243.00" width="10.00" height="8.30" fill="#464646"/>
<rect x="345.20" y="243.00" width="10.00" height="8.30" fill="#464646"/>
<rect x="354.70" y="243.00" width="9.50" height="8.30" fill="#464646"/>
<rect x="288.20" y="250.80" width="10.00" height="7.80" fill="#faf4fa"/>
<rect x="297.70" y="250.80" width="10.00" height="7.80" fill="#9280cc"/>
<rect x="307.20" y="250.80" width="10.00" height="7.80" fill="#c8bce6"/>
<rect x="316.70" y="250.80" width="10.00" height="7.80" fill="#ffffff"/>
<rect x="326.20" y="250.80" width="10.00" height="7.80" fill="#dcd2ee"/>
<rect x="335.70" y="250.80" width="10.00" height="7.80" fill="#5a3aa8"/>
<rect x="345.20" y="250.80" width="10.00" height="7.80" fill="#9a84cc"/>
<rect x="354.70" y="250.80" width="9.50" height="7.80" fill="#3c2898"/>
<rect x="288.20" y="261.10" width="10.00" height="8.30" fill="#a0101e"/>
<rect x="297.70" y="261.10" width="10.00" height="8.30" fill="#a0101e"/>
<rect x="307.20" y="261.10" width="10.00" height="8.30" fill="#a0101e"/>
<rect x="316.70" y="261.10" width="10.00" height="8.30" fill="#a0101e"/>
<rect x="326.20" y="261.10" width="10.00" height="8.30" fill="#a0101e"/>
<rect x="335.70" y="261.10" width="10.00" height="8.30" fill="#a0101e"/>
<rect x="345.20" y="261.10" width="10.00" height="8.30" fill="#2a3aa0"/>
<rect x="354.70" y="261.10" width="9.50" height="8.30" fill="#a0101e"/>
<rect x="288.20" y="268.90" width="10.00" height="8.30" fill="#2a3aa0"/>
<rect x="297.70" y="268.90" width="10.00" height="8.30" fill="#a0101e"/>
<rect x="307.20" y="268.90" width="10.00" height="8.30" fill="#a0101e"/>
<rect x="316.70" y="268.90" width="10.00" height="8.30" fill="#a0101e"/>
<rect x="326.20" y="268.90" width="10.00" height="8.30" fill="#a0101e"/>
<rect x="335.70" y="268.90" width="10.00" height="8.30" fill="#a0101e"/>
<rect x="345.20" y="268.90" width="10.00" height="8.30" fill="#a0101e"/>
<rect x="354.70" y="268.90" width="9.50" height="8.30" fill="#a0101e"/>
<rect x="288.20" y="276.70" width="10.00" height="8.30" fill="#c8c8c8"/>
<rect x="297.70" y="276.70" width="10.00" height="8.30" fill="#2a3aa0"/>
<rect x="307.20" y="276.70" width="10.00" height="8.30" fill="#c8c8c8"/>
<rect x="316.70" y="276.70" width="10.00" height="8.30" fill="#c8c8c8"/>
<rect x="326.20" y="276.70" width="10.00" height="8.30" fill="#c8c8c8"/>
<rect x="335.70" y="276.70" width="10.00" height="8.30" fill="#c8c8c8"/>
<rect x="345.20" y="276.70" width="10.00" height="8.30" fill="#c8c8c8"/>
<rect x="354.70" y="276.70" width="9.50" height="8.30" fill="#2a3aa0"/>
<rect x="288.20" y="284.50" width="10.00" height="7.80" fill="#a0101e"/>
<rect x="297.70" y="284.50" width="10.00" height="7.80" fill="#2a3aa0"/>
<rect x="307.20" y="284.50" width="10.00" height="7.80" fill="#2a3aa0"/>
<rect x="316.70" y="284.50" width="10.00" height="7.80" fill="#2a3aa0"/>
<rect x="326.20" y="284.50" width="10.00" height="7.80" fill="#2a3aa0"/>
<rect x="335.70" y="284.50" width="10.00" height="7.80" fill="#2a3aa0"/>
<rect x="345.20" y="284.50" width="10.00" height="7.80" fill="#2a3aa0"/>
<rect x="354.70" y="284.50" width="9.50" height="7.80" fill="#2a3aa0"/>
<line x1="297.70" y1="199.50" x2="297.70" y2="215.10" stroke="rgba(255,255,255,0.22)" stroke-width="0.5" />
<line x1="307.20" y1="199.50" x2="307.20" y2="215.10" stroke="rgba(255,255,255,0.22)" stroke-width="0.5" />
<line x1="316.70" y1="199.50" x2="316.70" y2="215.10" stroke="rgba(255,255,255,0.22)" stroke-width="0.5" />
<line x1="326.20" y1="199.50" x2="326.20" y2="215.10" stroke="rgba(255,255,255,0.22)" stroke-width="0.5" />
<line x1="335.70" y1="199.50" x2="335.70" y2="215.10" stroke="rgba(255,255,255,0.22)" stroke-width="0.5" />
<line x1="345.20" y1="199.50" x2="345.20" y2="215.10" stroke="rgba(255,255,255,0.22)" stroke-width="0.5" />
<line x1="354.70" y1="199.50" x2="354.70" y2="215.10" stroke="rgba(255,255,255,0.22)" stroke-width="0.5" />
<line x1="288.20" y1="207.30" x2="364.20" y2="207.30" stroke="rgba(255,255,255,0.18)" stroke-width="0.5" />
<rect x="288.20" y="199.50" width="76.00" height="15.60" fill="none" stroke="rgba(0,0,0,0.35)" stroke-width="0.6"/>
<line x1="297.70" y1="217.10" x2="297.70" y2="240.50" stroke="rgba(255,255,255,0.22)" stroke-width="0.5" />
<line x1="307.20" y1="217.10" x2="307.20" y2="240.50" stroke="rgba(255,255,255,0.22)" stroke-width="0.5" />
<line x1="316.70" y1="217.10" x2="316.70" y2="240.50" stroke="rgba(255,255,255,0.22)" stroke-width="0.5" />
<line x1="326.20" y1="217.10" x2="326.20" y2="240.50" stroke="rgba(255,255,255,0.22)" stroke-width="0.5" />
<line x1="335.70" y1="217.10" x2="335.70" y2="240.50" stroke="rgba(255,255,255,0.22)" stroke-width="0.5" />
<line x1="345.20" y1="217.10" x2="345.20" y2="240.50" stroke="rgba(255,255,255,0.22)" stroke-width="0.5" />
<line x1="354.70" y1="217.10" x2="354.70" y2="240.50" stroke="rgba(255,255,255,0.22)" stroke-width="0.5" />
<line x1="288.20" y1="224.90" x2="364.20" y2="224.90" stroke="rgba(255,255,255,0.18)" stroke-width="0.5" />
<line x1="288.20" y1="232.70" x2="364.20" y2="232.70" stroke="rgba(255,255,255,0.18)" stroke-width="0.5" />
<rect x="288.20" y="217.10" width="76.00" height="23.40" fill="none" stroke="rgba(0,0,0,0.35)" stroke-width="0.6"/>
<line x1="297.70" y1="243.00" x2="297.70" y2="258.60" stroke="rgba(255,255,255,0.22)" stroke-width="0.5" />
<line x1="307.20" y1="243.00" x2="307.20" y2="258.60" stroke="rgba(255,255,255,0.22)" stroke-width="0.5" />
<line x1="316.70" y1="243.00" x2="316.70" y2="258.60" stroke="rgba(255,255,255,0.22)" stroke-width="0.5" />
<line x1="326.20" y1="243.00" x2="326.20" y2="258.60" stroke="rgba(255,255,255,0.22)" stroke-width="0.5" />
<line x1="335.70" y1="243.00" x2="335.70" y2="258.60" stroke="rgba(255,255,255,0.22)" stroke-width="0.5" />
<line x1="345.20" y1="243.00" x2="345.20" y2="258.60" stroke="rgba(255,255,255,0.22)" stroke-width="0.5" />
<line x1="354.70" y1="243.00" x2="354.70" y2="258.60" stroke="rgba(255,255,255,0.22)" stroke-width="0.5" />
<line x1="288.20" y1="250.80" x2="364.20" y2="250.80" stroke="rgba(255,255,255,0.18)" stroke-width="0.5" />
<rect x="288.20" y="243.00" width="76.00" height="15.60" fill="none" stroke="rgba(0,0,0,0.35)" stroke-width="0.6"/>
<line x1="297.70" y1="261.10" x2="297.70" y2="292.30" stroke="rgba(255,255,255,0.22)" stroke-width="0.5" />
<line x1="307.20" y1="261.10" x2="307.20" y2="292.30" stroke="rgba(255,255,255,0.22)" stroke-width="0.5" />
<line x1="316.70" y1="261.10" x2="316.70" y2="292.30" stroke="rgba(255,255,255,0.22)" stroke-width="0.5" />
<line x1="326.20" y1="261.10" x2="326.20" y2="292.30" stroke="rgba(255,255,255,0.22)" stroke-width="0.5" />
<line x1="335.70" y1="261.10" x2="335.70" y2="292.30" stroke="rgba(255,255,255,0.22)" stroke-width="0.5" />
<line x1="345.20" y1="261.10" x2="345.20" y2="292.30" stroke="rgba(255,255,255,0.22)" stroke-width="0.5" />
<line x1="354.70" y1="261.10" x2="354.70" y2="292.30" stroke="rgba(255,255,255,0.22)" stroke-width="0.5" />
<line x1="288.20" y1="268.90" x2="364.20" y2="268.90" stroke="rgba(255,255,255,0.18)" stroke-width="0.5" />
<line x1="288.20" y1="276.70" x2="364.20" y2="276.70" stroke="rgba(255,255,255,0.18)" stroke-width="0.5" />
<line x1="288.20" y1="284.50" x2="364.20" y2="284.50" stroke="rgba(255,255,255,0.18)" stroke-width="0.5" />
<rect x="288.20" y="261.10" width="76.00" height="31.20" fill="none" stroke="rgba(0,0,0,0.35)" stroke-width="0.6"/>
<rect x="367.30" y="199.50" width="9.89" height="8.30" fill="#d4153c"/>
<rect x="376.69" y="199.50" width="9.89" height="8.30" fill="#1f333d"/>
<rect x="386.07" y="199.50" width="9.89" height="8.30" fill="#7d1b1f"/>
<rect x="395.46" y="199.50" width="9.89" height="8.30" fill="#7d1b1f"/>
<rect x="404.84" y="199.50" width="9.89" height="8.30" fill="#7d1b1f"/>
<rect x="414.23" y="199.50" width="9.89" height="8.30" fill="#7d1b1f"/>
<rect x="423.61" y="199.50" width="9.39" height="8.30" fill="#7d1b1f"/>
<rect x="367.30" y="207.30" width="9.89" height="7.80" fill="#6e0c14"/>
<rect x="376.69" y="207.30" width="9.89" height="7.80" fill="#1e3448"/>
<rect x="386.07" y="207.30" width="9.89" height="7.80" fill="#6e0c14"/>
<rect x="395.46" y="207.30" width="9.89" height="7.80" fill="#2b8eb2"/>
<rect x="404.84" y="207.30" width="9.89" height="7.80" fill="#1e3448"/>
<rect x="414.23" y="207.30" width="9.89" height="7.80" fill="#1e3448"/>
<rect x="423.61" y="207.30" width="9.39" height="7.80" fill="#6e0c14"/>
<rect x="367.30" y="217.10" width="9.89" height="8.30" fill="#2aa646"/>
<rect x="376.69" y="217.10" width="9.89" height="8.30" fill="#2aa646"/>
<rect x="386.07" y="217.10" width="9.89" height="8.30" fill="#2aa646"/>
<rect x="395.46" y="217.10" width="9.89" height="8.30" fill="#2aa646"/>
<rect x="404.84" y="217.10" width="9.89" height="8.30" fill="#464646"/>
<rect x="414.23" y="217.10" width="9.89" height="8.30" fill="#464646"/>
<rect x="423.61" y="217.10" width="9.39" height="8.30" fill="#464646"/>
<rect x="367.30" y="224.90" width="9.89" height="8.30" fill="#c4c4c4"/>
<rect x="376.69" y="224.90" width="9.89" height="8.30" fill="#24228c"/>
<rect x="386.07" y="224.90" width="9.89" height="8.30" fill="#e0202f"/>
<rect x="395.46" y="224.90" width="9.89" height="8.30" fill="#e0202f"/>
<rect x="404.84" y="224.90" width="9.89" height="8.30" fill="#464646"/>
<rect x="414.23" y="224.90" width="9.89" height="8.30" fill="#464646"/>
<rect x="423.61" y="224.90" width="9.39" height="8.30" fill="#464646"/>
<rect x="367.30" y="232.70" width="9.89" height="7.80" fill="#f6c0ac"/>
<rect x="376.69" y="232.70" width="9.89" height="7.80" fill="#f6c4b0"/>
<rect x="386.07" y="232.70" width="9.89" height="7.80" fill="#e83820"/>
<rect x="395.46" y="232.70" width="9.89" height="7.80" fill="#fff8f8"/>
<rect x="404.84" y="232.70" width="9.89" height="7.80" fill="#a48cd2"/>
<rect x="414.23" y="232.70" width="9.89" height="7.80" fill="#7a5cbc"/>
<rect x="423.61" y="232.70" width="9.39" height="7.80" fill="#3a2a96"/>
<rect x="367.30" y="243.00" width="9.89" height="8.30" fill="#464646"/>
<rect x="376.69" y="243.00" width="9.89" height="8.30" fill="#464646"/>
<rect x="386.07" y="243.00" width="9.89" height="8.30" fill="#c0282f"/>
<rect x="395.46" y="243.00" width="9.89" height="8.30" fill="#c0282f"/>
<rect x="404.84" y="243.00" width="9.89" height="8.30" fill="#2aa646"/>
<rect x="414.23" y="243.00" width="9.89" height="8.30" fill="#2aa646"/>
<rect x="423.61" y="243.00" width="9.39" height="8.30" fill="#2aa646"/>
<rect x="367.30" y="250.80" width="9.89" height="7.80" fill="#cbc0e4"/>
<rect x="376.69" y="250.80" width="9.89" height="7.80" fill="#f07a58"/>
<rect x="386.07" y="250.80" width="9.89" height="7.80" fill="#f48c68"/>
<rect x="395.46" y="250.80" width="9.89" height="7.80" fill="#f6b4a0"/>
<rect x="404.84" y="250.80" width="9.89" height="7.80" fill="#f06c48"/>
<rect x="414.23" y="250.80" width="9.89" height="7.80" fill="#f06c48"/>
<rect x="423.61" y="250.80" width="9.39" height="7.80" fill="#e42418"/>
<rect x="367.30" y="261.10" width="9.89" height="8.30" fill="#a0101e"/>
<rect x="376.69" y="261.10" width="9.89" height="8.30" fill="#c8c8c8"/>
<rect x="386.07" y="261.10" width="9.89" height="8.30" fill="#a0101e"/>
<rect x="395.46" y="261.10" width="9.89" height="8.30" fill="#a0101e"/>
<rect x="404.84" y="261.10" width="9.89" height="8.30" fill="#a0101e"/>
<rect x="414.23" y="261.10" width="9.89" height="8.30" fill="#a0101e"/>
<rect x="423.61" y="261.10" width="9.39" height="8.30" fill="#a0101e"/>
<rect x="367.30" y="268.90" width="9.89" height="8.30" fill="#c8c8c8"/>
<rect x="376.69" y="268.90" width="9.89" height="8.30" fill="#a0101e"/>
<rect x="386.07" y="268.90" width="9.89" height="8.30" fill="#2a3aa0"/>
<rect x="395.46" y="268.90" width="9.89" height="8.30" fill="#a0101e"/>
<rect x="404.84" y="268.90" width="9.89" height="8.30" fill="#a0101e"/>
<rect x="414.23" y="268.90" width="9.89" height="8.30" fill="#a0101e"/>
<rect x="423.61" y="268.90" width="9.39" height="8.30" fill="#a0101e"/>
<rect x="367.30" y="276.70" width="9.89" height="8.30" fill="#c8c8c8"/>
<rect x="376.69" y="276.70" width="9.89" height="8.30" fill="#2a3aa0"/>
<rect x="386.07" y="276.70" width="9.89" height="8.30" fill="#2a3aa0"/>
<rect x="395.46" y="276.70" width="9.89" height="8.30" fill="#2a3aa0"/>
<rect x="404.84" y="276.70" width="9.89" height="8.30" fill="#2a3aa0"/>
<rect x="414.23" y="276.70" width="9.89" height="8.30" fill="#2a3aa0"/>
<rect x="423.61" y="276.70" width="9.39" height="8.30" fill="#c8c8c8"/>
<rect x="367.30" y="284.50" width="9.89" height="7.80" fill="#c8c8c8"/>
<rect x="376.69" y="284.50" width="9.89" height="7.80" fill="#a0101e"/>
<rect x="386.07" y="284.50" width="9.89" height="7.80" fill="#a0101e"/>
<rect x="395.46" y="284.50" width="9.89" height="7.80" fill="#a0101e"/>
<rect x="404.84" y="284.50" width="9.89" height="7.80" fill="#a0101e"/>
<rect x="414.23" y="284.50" width="9.89" height="7.80" fill="#a0101e"/>
<rect x="423.61" y="284.50" width="9.39" height="7.80" fill="#a0101e"/>
<line x1="376.69" y1="199.50" x2="376.69" y2="215.10" stroke="rgba(255,255,255,0.22)" stroke-width="0.5" />
<line x1="386.07" y1="199.50" x2="386.07" y2="215.10" stroke="rgba(255,255,255,0.22)" stroke-width="0.5" />
<line x1="395.46" y1="199.50" x2="395.46" y2="215.10" stroke="rgba(255,255,255,0.22)" stroke-width="0.5" />
<line x1="404.84" y1="199.50" x2="404.84" y2="215.10" stroke="rgba(255,255,255,0.22)" stroke-width="0.5" />
<line x1="414.23" y1="199.50" x2="414.23" y2="215.10" stroke="rgba(255,255,255,0.22)" stroke-width="0.5" />
<line x1="423.61" y1="199.50" x2="423.61" y2="215.10" stroke="rgba(255,255,255,0.22)" stroke-width="0.5" />
<line x1="367.30" y1="207.30" x2="433.00" y2="207.30" stroke="rgba(255,255,255,0.18)" stroke-width="0.5" />
<rect x="367.30" y="199.50" width="65.70" height="15.60" fill="none" stroke="rgba(0,0,0,0.35)" stroke-width="0.6"/>
<line x1="376.69" y1="217.10" x2="376.69" y2="240.50" stroke="rgba(255,255,255,0.22)" stroke-width="0.5" />
<line x1="386.07" y1="217.10" x2="386.07" y2="240.50" stroke="rgba(255,255,255,0.22)" stroke-width="0.5" />
<line x1="395.46" y1="217.10" x2="395.46" y2="240.50" stroke="rgba(255,255,255,0.22)" stroke-width="0.5" />
<line x1="404.84" y1="217.10" x2="404.84" y2="240.50" stroke="rgba(255,255,255,0.22)" stroke-width="0.5" />
<line x1="414.23" y1="217.10" x2="414.23" y2="240.50" stroke="rgba(255,255,255,0.22)" stroke-width="0.5" />
<line x1="423.61" y1="217.10" x2="423.61" y2="240.50" stroke="rgba(255,255,255,0.22)" stroke-width="0.5" />
<line x1="367.30" y1="224.90" x2="433.00" y2="224.90" stroke="rgba(255,255,255,0.18)" stroke-width="0.5" />
<line x1="367.30" y1="232.70" x2="433.00" y2="232.70" stroke="rgba(255,255,255,0.18)" stroke-width="0.5" />
<rect x="367.30" y="217.10" width="65.70" height="23.40" fill="none" stroke="rgba(0,0,0,0.35)" stroke-width="0.6"/>
<line x1="376.69" y1="243.00" x2="376.69" y2="258.60" stroke="rgba(255,255,255,0.22)" stroke-width="0.5" />
<line x1="386.07" y1="243.00" x2="386.07" y2="258.60" stroke="rgba(255,255,255,0.22)" stroke-width="0.5" />
<line x1="395.46" y1="243.00" x2="395.46" y2="258.60" stroke="rgba(255,255,255,0.22)" stroke-width="0.5" />
<line x1="404.84" y1="243.00" x2="404.84" y2="258.60" stroke="rgba(255,255,255,0.22)" stroke-width="0.5" />
<line x1="414.23" y1="243.00" x2="414.23" y2="258.60" stroke="rgba(255,255,255,0.22)" stroke-width="0.5" />
<line x1="423.61" y1="243.00" x2="423.61" y2="258.60" stroke="rgba(255,255,255,0.22)" stroke-width="0.5" />
<line x1="367.30" y1="250.80" x2="433.00" y2="250.80" stroke="rgba(255,255,255,0.18)" stroke-width="0.5" />
<rect x="367.30" y="243.00" width="65.70" height="15.60" fill="none" stroke="rgba(0,0,0,0.35)" stroke-width="0.6"/>
<line x1="376.69" y1="261.10" x2="376.69" y2="292.30" stroke="rgba(255,255,255,0.22)" stroke-width="0.5" />
<line x1="386.07" y1="261.10" x2="386.07" y2="292.30" stroke="rgba(255,255,255,0.22)" stroke-width="0.5" />
<line x1="395.46" y1="261.10" x2="395.46" y2="292.30" stroke="rgba(255,255,255,0.22)" stroke-width="0.5" />
<line x1="404.84" y1="261.10" x2="404.84" y2="292.30" stroke="rgba(255,255,255,0.22)" stroke-width="0.5" />
<line x1="414.23" y1="261.10" x2="414.23" y2="292.30" stroke="rgba(255,255,255,0.22)" stroke-width="0.5" />
<line x1="423.61" y1="261.10" x2="423.61" y2="292.30" stroke="rgba(255,255,255,0.22)" stroke-width="0.5" />
<line x1="367.30" y1="268.90" x2="433.00" y2="268.90" stroke="rgba(255,255,255,0.18)" stroke-width="0.5" />
<line x1="367.30" y1="276.70" x2="433.00" y2="276.70" stroke="rgba(255,255,255,0.18)" stroke-width="0.5" />
<line x1="367.30" y1="284.50" x2="433.00" y2="284.50" stroke="rgba(255,255,255,0.18)" stroke-width="0.5" />
<rect x="367.30" y="261.10" width="65.70" height="31.20" fill="none" stroke="rgba(0,0,0,0.35)" stroke-width="0.6"/>
<text x="436.90" y="205.60" font-size="6.1" fill="#2a2a2a" stroke="#2a2a2a" stroke-width="0.12" text-anchor="start" font-weight="normal" font-style="normal" >LymphGen</text>
<text x="436.90" y="213.40" font-size="6.15" fill="#2a2a2a" stroke="#2a2a2a" stroke-width="0.12" text-anchor="start" font-weight="normal" font-style="normal" >Morphology</text>
<text x="436.90" y="223.20" font-size="6.2" fill="#2a2a2a" stroke="#2a2a2a" stroke-width="0.12" text-anchor="start" font-weight="normal" font-style="normal" ><tspan font-style="italic">MYC</tspan> rearrangement</text>
<text x="436.90" y="231.00" font-size="6.25" fill="#2a2a2a" stroke="#2a2a2a" stroke-width="0.12" text-anchor="start" font-weight="normal" font-style="normal" ><tspan font-style="italic">MYC</tspan> partner</text>
<text x="436.90" y="238.80" font-size="6.25" fill="#2a2a2a" stroke="#2a2a2a" stroke-width="0.12" text-anchor="start" font-weight="normal" font-style="normal" ><tspan font-style="italic">MYC</tspan> mRNA</text>
<text x="436.90" y="249.10" font-size="6.35" fill="#2a2a2a" stroke="#2a2a2a" stroke-width="0.12" text-anchor="start" font-weight="normal" font-style="normal" ><tspan font-style="italic">BCL2</tspan> rearrangment</text>
<text x="436.90" y="256.90" font-size="6.4" fill="#2a2a2a" stroke="#2a2a2a" stroke-width="0.12" text-anchor="start" font-weight="normal" font-style="normal" ><tspan font-style="italic">BCL2</tspan> mRNA</text>
<text x="436.90" y="267.20" font-size="6.6" fill="#2a2a2a" stroke="#2a2a2a" stroke-width="0.12" text-anchor="start" font-weight="normal" font-style="normal" >CD10 IHC</text>
<text x="436.90" y="275.00" font-size="6.6" fill="#2a2a2a" stroke="#2a2a2a" stroke-width="0.12" text-anchor="start" font-weight="normal" font-style="normal" >BCL6 IHC</text>
<text x="436.90" y="282.80" font-size="6.55" fill="#2a2a2a" stroke="#2a2a2a" stroke-width="0.12" text-anchor="start" font-weight="normal" font-style="normal" >MUM1 IHC</text>
<text x="436.90" y="290.60" font-size="6.6" fill="#2a2a2a" stroke="#2a2a2a" stroke-width="0.12" text-anchor="start" font-weight="normal" font-style="normal" >BCL2 IHC</text>
<text x="234.00" y="313.90" font-size="6.3" fill="#2a2a2a" stroke="#2a2a2a" stroke-width="0.12" text-anchor="start" font-weight="normal" font-style="normal" >LymphGen</text>
<rect x="234.10" y="320.70" width="5.60" height="5.00" fill="#7d1b1f" stroke="#5a1316" stroke-width="0.6"/>
<text x="243.60" y="325.70" font-size="6.4" fill="#2a2a2a" stroke="#2a2a2a" stroke-width="0.12" text-anchor="start" font-weight="normal" font-style="normal" >EZB</text>
<rect x="234.10" y="331.15" width="5.60" height="5.00" fill="#d4153c" stroke="#980f2b" stroke-width="0.6"/>
<text x="243.60" y="336.15" font-size="6.4" fill="#2a2a2a" stroke="#2a2a2a" stroke-width="0.12" text-anchor="start" font-weight="normal" font-style="normal" >ST2</text>
<rect x="234.10" y="341.60" width="5.60" height="5.00" fill="#1f333d" stroke="#16242b" stroke-width="0.6"/>
<text x="243.60" y="346.60" font-size="6.4" fill="#2a2a2a" stroke="#2a2a2a" stroke-width="0.12" text-anchor="start" font-weight="normal" font-style="normal" >Other</text>
<text x="277.70" y="313.90" font-size="6.3" fill="#2a2a2a" stroke="#2a2a2a" stroke-width="0.12" text-anchor="start" font-weight="normal" font-style="normal" >Morphology</text>
<rect x="277.80" y="320.70" width="5.60" height="5.00" fill="#2b8eb2" stroke="#1e6680" stroke-width="0.6"/>
<text x="286.60" y="325.70" font-size="6.4" fill="#2a2a2a" stroke="#2a2a2a" stroke-width="0.12" text-anchor="start" font-weight="normal" font-style="normal" >Intermediate</text>
<rect x="277.80" y="331.15" width="5.60" height="5.00" fill="#6e0c14" stroke="#4f080e" stroke-width="0.6"/>
<text x="286.60" y="336.15" font-size="6.4" fill="#2a2a2a" stroke="#2a2a2a" stroke-width="0.12" text-anchor="start" font-weight="normal" font-style="normal" >Blastoid</text>
<rect x="277.80" y="341.60" width="5.60" height="5.00" fill="#1e3448" stroke="#152533" stroke-width="0.6"/>
<text x="286.60" y="346.60" font-size="6.4" fill="#2a2a2a" stroke="#2a2a2a" stroke-width="0.12" text-anchor="start" font-weight="normal" font-style="normal" >Unspecified</text>
<text x="330.00" y="313.90" font-size="6.3" fill="#2a2a2a" stroke="#2a2a2a" stroke-width="0.12" text-anchor="start" font-weight="normal" font-style="normal" >Rearrangement</text>
<rect x="330.10" y="320.70" width="5.60" height="5.00" fill="#2aa646" stroke="#1e7732" stroke-width="0.6"/>
<text x="338.90" y="325.70" font-size="6.4" fill="#2a2a2a" stroke="#2a2a2a" stroke-width="0.12" text-anchor="start" font-weight="normal" font-style="normal" >POS</text>
<rect x="330.10" y="331.15" width="5.60" height="5.00" fill="#c0282f" stroke="#8a1c21" stroke-width="0.6"/>
<text x="338.90" y="336.15" font-size="6.4" fill="#2a2a2a" stroke="#2a2a2a" stroke-width="0.12" text-anchor="start" font-weight="normal" font-style="normal" >Cryptic</text>
<rect x="330.10" y="341.60" width="5.60" height="5.00" fill="#464646" stroke="#323232" stroke-width="0.6"/>
<text x="338.90" y="346.60" font-size="6.4" fill="#2a2a2a" stroke="#2a2a2a" stroke-width="0.12" text-anchor="start" font-weight="normal" font-style="normal" >NEG</text>
<text x="386.00" y="313.90" font-size="6.3" fill="#2a2a2a" stroke="#2a2a2a" stroke-width="0.12" text-anchor="start" font-weight="normal" font-style="normal" ><tspan font-style="italic">MYC</tspan> Partner</text>
<rect x="386.10" y="320.70" width="5.60" height="5.00" fill="#e0202f" stroke="#a11721" stroke-width="0.6"/>
<text x="394.90" y="325.70" font-size="6.4" fill="#2a2a2a" stroke="#2a2a2a" stroke-width="0.12" text-anchor="start" font-weight="normal" font-style="normal" >IG</text>
<rect x="386.10" y="331.15" width="5.60" height="5.00" fill="#24228c" stroke="#191864" stroke-width="0.6"/>
<text x="394.90" y="336.15" font-size="6.4" fill="#2a2a2a" stroke="#2a2a2a" stroke-width="0.12" text-anchor="start" font-weight="normal" font-style="normal" >non-IG</text>
<rect x="386.10" y="341.60" width="5.60" height="5.00" fill="#464646" stroke="#323232" stroke-width="0.6"/>
<text x="394.90" y="346.60" font-size="6.4" fill="#2a2a2a" stroke="#2a2a2a" stroke-width="0.12" text-anchor="start" font-weight="normal" font-style="normal" >No break</text>
<rect x="386.10" y="352.05" width="5.60" height="5.00" fill="#c4c4c4" stroke="#8d8d8d" stroke-width="0.6"/>
<text x="394.90" y="357.05" font-size="6.4" fill="#2a2a2a" stroke="#2a2a2a" stroke-width="0.12" text-anchor="start" font-weight="normal" font-style="normal" >NA</text>
<text x="434.20" y="313.90" font-size="6.3" fill="#2a2a2a" stroke="#2a2a2a" stroke-width="0.12" text-anchor="start" font-weight="normal" font-style="normal" >IHC</text>
<rect x="434.30" y="320.70" width="5.60" height="5.00" fill="#a0101e" stroke="#730b15" stroke-width="0.6"/>
<text x="443.10" y="325.70" font-size="6.4" fill="#2a2a2a" stroke="#2a2a2a" stroke-width="0.12" text-anchor="start" font-weight="normal" font-style="normal" >POS</text>
<rect x="434.30" y="331.15" width="5.60" height="5.00" fill="#2a3aa0" stroke="#1e2973" stroke-width="0.6"/>
<text x="443.10" y="336.15" font-size="6.4" fill="#2a2a2a" stroke="#2a2a2a" stroke-width="0.12" text-anchor="start" font-weight="normal" font-style="normal" >NEG</text>
<rect x="434.30" y="341.60" width="5.60" height="5.00" fill="#c8c8c8" stroke="#909090" stroke-width="0.6"/>
<text x="443.10" y="346.60" font-size="6.4" fill="#2a2a2a" stroke="#2a2a2a" stroke-width="0.12" text-anchor="start" font-weight="normal" font-style="normal" >NA</text>
<text x="465.90" y="314.00" font-size="6.5" fill="#2a2a2a" stroke="#2a2a2a" stroke-width="0.12" text-anchor="start" font-weight="normal" font-style="normal" >mRNA (Zscore)</text>
<rect x="465.20" y="320.60" width="46.80" height="7.60" fill="url(#cb)" />
<text x="466.90" y="335.60" font-size="6.3" fill="#2a2a2a" stroke="#2a2a2a" stroke-width="0.12" text-anchor="middle" font-weight="normal" font-style="normal" >&#8722;2</text>
<text x="477.70" y="335.60" font-size="6.3" fill="#2a2a2a" stroke="#2a2a2a" stroke-width="0.12" text-anchor="middle" font-weight="normal" font-style="normal" >&#8722;1</text>
<text x="488.40" y="335.60" font-size="6.3" fill="#2a2a2a" stroke="#2a2a2a" stroke-width="0.12" text-anchor="middle" font-weight="normal" font-style="normal" >0</text>
<text x="499.20" y="335.60" font-size="6.3" fill="#2a2a2a" stroke="#2a2a2a" stroke-width="0.12" text-anchor="middle" font-weight="normal" font-style="normal" >1</text>
<text x="509.80" y="335.60" font-size="6.3" fill="#2a2a2a" stroke="#2a2a2a" stroke-width="0.12" text-anchor="middle" font-weight="normal" font-style="normal" >2</text>
<rect x="0.5" y="0.5" width="518.6" height="362.6" fill="none" stroke="#4a4a4a" stroke-width="1"/>
<line x1="519.5" y1="0" x2="519.5" y2="364" stroke="#555" stroke-width="1"/>
<line x1="0" y1="363.5" x2="520" y2="363.5" stroke="#555" stroke-width="1"/>
</svg>
</body></html>
